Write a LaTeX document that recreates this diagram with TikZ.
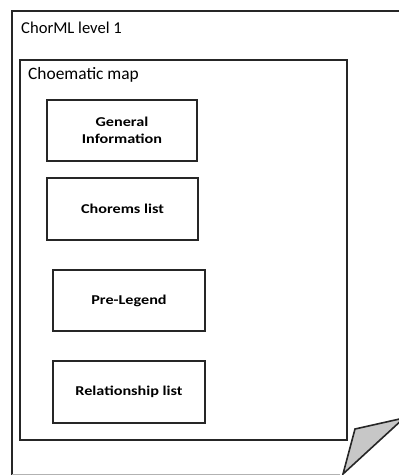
\documentclass[tikz,border=0pt]{standalone}
\usepackage{fontspec}
\setmainfont{Carlito}
\newfontfamily\boxfont{Carlito}[FakeStretch=1.2]
\begin{document}
\begin{tikzpicture}[x=1pt,y=-1pt,
  frame/.style={draw=black!85,line width=1.6pt},
  itembox/.style={frame,rectangle,minimum width=150pt,minimum height=61pt,
    inner sep=0pt,align=center,font=\boxfont\fontsize{13.5}{17}\selectfont\bfseries},
  title/.style={anchor=west,inner sep=0pt}]
\useasboundingbox (0,0) rectangle (399,475);
\clip (0,0) rectangle (399,475);
% outer page with its folded corner
\draw[frame] (12,476) -- (12,11) -- (410,11);
\draw[black!30,line width=1pt] (12,474.5) -- (340,474.5);
\node[title,font=\fontsize{16.6}{19}\selectfont] (lvl) at (21,28) {ChorML level 1};
% map frame
\draw[frame] (20,60) rectangle (347,440);
\node[title,font=\fontsize{17.4}{20}\selectfont] (map) at (28,75) {Choematic map};
% content blocks
\node[itembox] (gen) at (122,130.5) {General\\Information};
\node[itembox,minimum width=151pt,minimum height=62pt] (chr) at (122.5,209) {Chorems list};
\node[itembox,minimum width=152pt] (pre) at (129,300.5) {Pre-Legend};
\node[itembox,minimum width=152pt,minimum height=62pt] (rel) at (129,392) {Relationship list};
% folded flap
\draw[frame,fill=black!22,line join=miter] (355,429) -- (404,418) -- (343,474) -- cycle;
\end{tikzpicture}
\end{document}
